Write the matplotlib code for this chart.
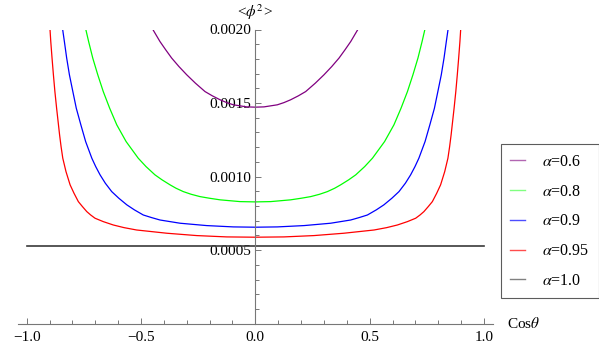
import matplotlib
matplotlib.use("Agg")
import matplotlib.pyplot as plt
from matplotlib.ticker import MultipleLocator
from matplotlib.lines import Line2D

plt.rcParams['font.family'] = ['Liberation Serif', 'DejaVu Serif']
plt.rcParams['mathtext.fontset'] = 'stix'

# values (x = cos(theta), y = <phi^2>)
cos_a06 = [-0.450, -0.417, -0.392, -0.366, -0.334, -0.300, -0.262, -0.220, -0.188, -0.154, -0.125, -0.096, -0.038, 0.0,
           0.038, 0.096, 0.125, 0.154, 0.188, 0.220, 0.262, 0.300, 0.334, 0.366, 0.392, 0.417, 0.450]
phi_a06 = [0.002005, 0.001918, 0.001862, 0.001806, 0.001748, 0.001692, 0.001635, 0.001578, 0.001549, 0.001522, 0.001503, 0.001488, 0.001474, 0.001472,
           0.001474, 0.001488, 0.001503, 0.001522, 0.001549, 0.001578, 0.001635, 0.001692, 0.001748, 0.001806, 0.001862, 0.001918, 0.002005]

cos_a08 = [-0.742, -0.729, -0.711, -0.689, -0.665, -0.637, -0.606, -0.565, -0.512, -0.478, -0.439, -0.408, -0.373,
           -0.347, -0.315, -0.281, -0.242, -0.201, -0.154, -0.067, 0.0,
           0.067, 0.154, 0.201, 0.242, 0.281, 0.315, 0.347,
           0.373, 0.408, 0.439, 0.478, 0.512, 0.565, 0.606, 0.637, 0.665, 0.689, 0.711, 0.729, 0.742]
phi_a08 = [0.002005, 0.001918, 0.001806, 0.001692, 0.001578, 0.001465, 0.001352, 0.001238, 0.001125, 0.001068, 0.001012, 0.000978, 0.000944,
           0.000921, 0.000898, 0.000880, 0.000864, 0.000853, 0.000842, 0.000830, 0.000828,
           0.000830, 0.000842, 0.000853, 0.000864, 0.000880, 0.000898, 0.000921,
           0.000944, 0.000978, 0.001012, 0.001068, 0.001125, 0.001238, 0.001352, 0.001465, 0.001578, 0.001692, 0.001806, 0.001918, 0.002005]

cos_a09 = [-0.843, -0.835, -0.825, -0.813, -0.798, -0.783, -0.763, -0.742, -0.715, -0.698, -0.679, -0.656,
           -0.628, -0.597, -0.562, -0.529, -0.490, -0.453, -0.417, -0.329, -0.213, -0.096, 0.0,
           0.096, 0.213, 0.329, 0.417, 0.453, 0.490, 0.529, 0.562, 0.597, 0.628,
           0.656, 0.679, 0.698, 0.715, 0.742, 0.763, 0.783, 0.798, 0.813, 0.825, 0.835, 0.843]
phi_a09 = [0.002005, 0.001918, 0.001806, 0.001692, 0.001578, 0.001465, 0.001352, 0.001238, 0.001125, 0.001068, 0.001012, 0.000955,
           0.000898, 0.000853, 0.000808, 0.000774, 0.000739, 0.000721, 0.000705, 0.000683, 0.000667, 0.000658, 0.000656,
           0.000658, 0.000667, 0.000683, 0.000705, 0.000721, 0.000739, 0.000774, 0.000808, 0.000853, 0.000898,
           0.000955, 0.001012, 0.001068, 0.001125, 0.001238, 0.001352, 0.001465, 0.001578, 0.001692, 0.001806, 0.001918, 0.002005]

cos_a095 = [-0.898, -0.8945, -0.889, -0.883, -0.8765, -0.869, -0.856, -0.8495, -0.842, -0.828, -0.810, -0.793, -0.774,
            -0.756, -0.737, -0.720, -0.701, -0.665, -0.621, -0.574, -0.519, -0.387, -0.256, -0.125, 0.0,
            0.125, 0.256, 0.387, 0.519, 0.574, 0.621, 0.665, 0.701, 0.720, 0.737, 0.756,
            0.774, 0.793, 0.810, 0.828, 0.842, 0.8495, 0.856, 0.869, 0.8765, 0.883, 0.889, 0.8945, 0.898]
phi_a095 = [0.002004, 0.001918, 0.001806, 0.001692, 0.001578, 0.001465, 0.001284, 0.001204, 0.001125, 0.001034, 0.000944, 0.000887, 0.000830,
            0.000796, 0.000762, 0.000739, 0.000717, 0.000694, 0.000671, 0.000653, 0.000637, 0.000615, 0.000599, 0.000590, 0.000588,
            0.000590, 0.000599, 0.000615, 0.000637, 0.000653, 0.000671, 0.000694, 0.000717, 0.000739, 0.000762, 0.000796,
            0.000830, 0.000887, 0.000944, 0.001034, 0.001125, 0.001204, 0.001284, 0.001465, 0.001578, 0.001692, 0.001806, 0.001918, 0.002004]

cos_a10 = [-1.0, 1.0]
phi_a10 = [0.000531, 0.000531]

labels = [r'$\alpha$=0.6', r'$\alpha$=0.8', r'$\alpha$=0.9', r'$\alpha$=0.95', r'$\alpha$=1.0']
colors = ['#800080', '#00ff00', '#0000ff', '#ff0000', '#3a3a3a']
legend_colors = ['#b266b2', '#80ff80', '#4d4dff', '#ff4d4d', '#808080']

fig = plt.figure(figsize=(5.99, 3.57), dpi=100)
ax = fig.add_axes([17.5 / 599, 33.3 / 357, 475.7 / 599, 294.2 / 357])

ax.plot(cos_a06, phi_a06, color=colors[0], lw=0.9)
ax.plot(cos_a08, phi_a08, color=colors[1], lw=0.9)
ax.plot(cos_a09, phi_a09, color=colors[2], lw=0.9)
ax.plot(cos_a095, phi_a095, color=colors[3], lw=0.9)
ax.plot(cos_a10, phi_a10, color=colors[4], lw=1.2)

ax.set_xlim(-1.04, 1.04)
ax.set_ylim(0, 0.002)

# Mathematica style axes crossing at the origin
for s in ['top', 'right']:
    ax.spines[s].set_visible(False)
ax.spines['left'].set_position(('data', 0))
ax.spines['bottom'].set_position(('data', 0))
for s in ['left', 'bottom']:
    ax.spines[s].set_color('#777777')
    ax.spines[s].set_linewidth(0.8)

ax.set_xticks([-1.0, -0.5, 0.0, 0.5, 1.0])
ax.set_xticklabels(['\u22121.0', '\u22120.5', '0.0', '0.5', '1.0'])
ax.xaxis.set_minor_locator(MultipleLocator(0.1))
ax.set_yticks([0.0005, 0.0010, 0.0015, 0.0020])
ax.set_yticklabels(['0.0005', '0.0010', '0.0015', '0.0020'])
ax.yaxis.set_minor_locator(MultipleLocator(0.0001))

ax.tick_params(which='both', direction='in', color='#777777', labelsize=11, width=0.7)
ax.tick_params(which='major', length=4.5)
ax.tick_params(which='minor', length=2.8)
ax.tick_params(axis='x', pad=5)
ax.tick_params(axis='y', pad=3)

fig.text(255.3 / 599, 1 - 12 / 357, r'<$\phi^{2}$>', ha='center', va='center', fontsize=11)
fig.text(507 / 599, 1 - 324 / 357, r'Cos$\theta$', ha='left', va='center', fontsize=11)

handles = [Line2D([], [], color=c, lw=1.0) for c in legend_colors]
leg = fig.legend(handles, labels, loc='upper left',
                 bbox_to_anchor=(500.7 / 599, 1 - 144.3 / 357),
                 fontsize=11.5, frameon=True, fancybox=False,
                 handlelength=0.9, handletextpad=1.1, labelspacing=0.86,
                 borderpad=0.6, borderaxespad=0)
leg.get_frame().set_edgecolor('#333333')
leg.get_frame().set_linewidth(0.8)

fig.savefig('out.png', dpi=100)
